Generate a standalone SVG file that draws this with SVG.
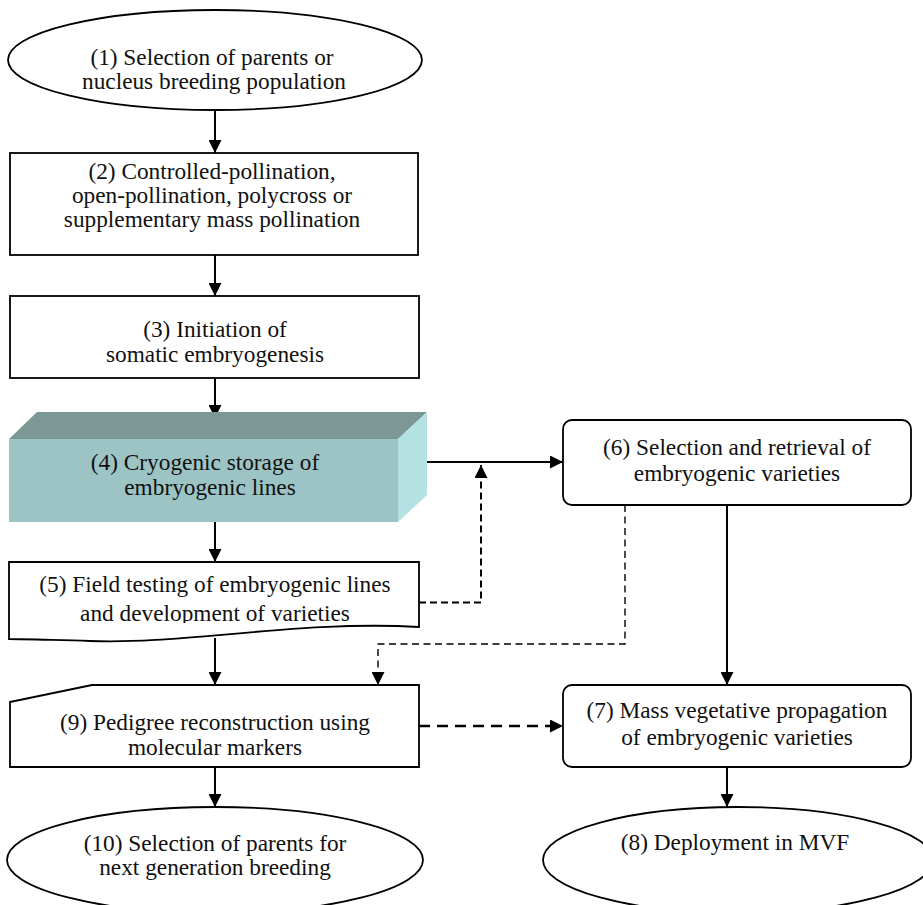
<svg xmlns="http://www.w3.org/2000/svg" width="923" height="905" viewBox="0 0 923 905">
<style>
  .shape { fill: #ffffff; stroke: #000000; stroke-width: 1.8; }
  .lbl { font-family: "Liberation Serif", "Times New Roman", serif; font-size: 23.3px; fill: #111111; text-anchor: middle; }
  .conn { fill: none; stroke: #000000; stroke-width: 2; }
  .dash { fill: none; stroke: #000000; stroke-width: 2; stroke-dasharray: 7 4; }
  .dashthin { fill: none; stroke: #000000; stroke-width: 1.4; stroke-dasharray: 7 4.5; }
  .dashthick { fill: none; stroke: #000000; stroke-width: 2.6; stroke-dasharray: 11 7; }
</style>
<defs>
  <marker id="arr" markerUnits="userSpaceOnUse" markerWidth="13" markerHeight="13" refX="13" refY="6.5" orient="auto">
    <path d="M0,0 L13,6.5 L0,13 z" fill="#000000"/>
  </marker>
  <clipPath id="clip5">
    <rect x="0" y="540" width="430" height="83"/>
  </clipPath>
</defs>
<rect x="0" y="0" width="923" height="905" fill="#ffffff"/>

<g id="connectors">
  <line class="conn" x1="215" y1="110" x2="215" y2="153" marker-end="url(#arr)"/>
  <line class="conn" x1="215" y1="255" x2="215" y2="296" marker-end="url(#arr)"/>
  <line class="conn" x1="215" y1="378" x2="215" y2="418" marker-end="url(#arr)"/>
  <line class="conn" x1="215" y1="522" x2="215" y2="562" marker-end="url(#arr)"/>
  <line class="conn" x1="418" y1="462" x2="563" y2="462" marker-end="url(#arr)"/>
  <polyline class="dash" points="419,602.5 481,602.5 481,465" marker-end="url(#arr)"/>
  <polyline class="dashthin" points="625,505 625,644 378,644 378,685" marker-end="url(#arr)"/>
  <line class="conn" x1="727" y1="505" x2="727" y2="685" marker-end="url(#arr)"/>
  <line class="conn" x1="215" y1="638" x2="215" y2="685" marker-end="url(#arr)"/>
  <line class="dashthick" x1="419" y1="726" x2="563" y2="726" marker-end="url(#arr)"/>
  <line class="conn" x1="215" y1="767" x2="215" y2="807" marker-end="url(#arr)"/>
  <line class="conn" x1="727" y1="767" x2="727" y2="807" marker-end="url(#arr)"/>
</g>

<g id="node1">
  <ellipse class="shape" cx="215" cy="60" rx="207" ry="50"/>
  <text class="lbl" x="212" y="65">(1) Selection of parents or</text>
  <text class="lbl" x="214" y="89">nucleus breeding population</text>
</g>

<g id="node2">
  <rect class="shape" x="10" y="153" width="408" height="102"/>
  <text class="lbl" x="212" y="179">(2) Controlled-pollination,</text>
  <text class="lbl" x="212" y="203">open-pollination, polycross or</text>
  <text class="lbl" x="212" y="227">supplementary mass pollination</text>
</g>

<g id="node3">
  <rect class="shape" x="10" y="296" width="409" height="82"/>
  <text class="lbl" x="215" y="337">(3) Initiation of</text>
  <text class="lbl" x="215" y="362">somatic embryogenesis</text>
</g>

<g id="node4">
  <polygon points="9,439 37,412 427,412 398,439" fill="#7b9896"/>
  <rect x="9" y="439" width="389" height="83" fill="#9dc4c4"/>
  <polygon points="398,439 427,412 427,495 398,522" fill="#b4e1e1"/>
  <text class="lbl" x="205" y="470">(4) Cryogenic storage of</text>
  <text class="lbl" x="210" y="495">embryogenic lines</text>
</g>

<g id="node5">
  <path class="shape" d="M9,562 H419 V627 C300,620 180,645 90,641 C50,640 25,639 9,639 Z"/>
  <g clip-path="url(#clip5)">
    <text class="lbl" x="215" y="592">(5) Field testing of embryogenic lines</text>
    <text class="lbl" x="215" y="621">and development of varieties</text>
  </g>
</g>

<g id="node6">
  <rect class="shape" x="563" y="420" width="348" height="85" rx="9" ry="9"/>
  <text class="lbl" x="737" y="455">(6) Selection and retrieval of</text>
  <text class="lbl" x="737" y="481">embryogenic varieties</text>
</g>

<g id="node7">
  <rect class="shape" x="563" y="685" width="348" height="82" rx="9" ry="9"/>
  <text class="lbl" x="737" y="718">(7) Mass vegetative propagation</text>
  <text class="lbl" x="737" y="745">of embryogenic varieties</text>
</g>

<g id="node8">
  <ellipse class="shape" cx="738" cy="860" rx="195" ry="53"/>
  <text class="lbl" x="735" y="850">(8) Deployment in MVF</text>
</g>

<g id="node9">
  <polygon class="shape" points="10,702 92,685 419,685 419,767 10,767"/>
  <text class="lbl" x="215" y="730">(9) Pedigree reconstruction using</text>
  <text class="lbl" x="215" y="755">molecular markers</text>
</g>

<g id="node10">
  <ellipse class="shape" cx="215" cy="860" rx="208" ry="53"/>
  <text class="lbl" x="215" y="851">(10) Selection of parents for</text>
  <text class="lbl" x="215" y="875">next generation breeding</text>
</g>
</svg>
